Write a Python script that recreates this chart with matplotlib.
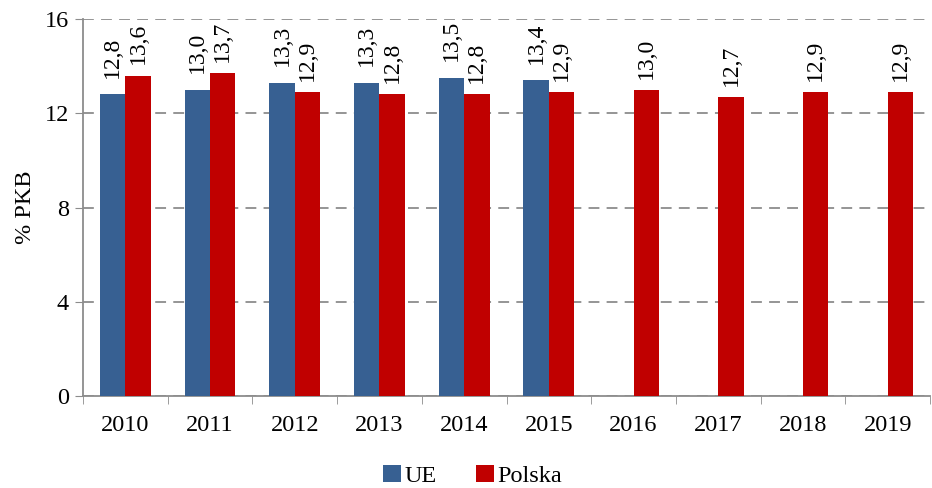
import numpy as np
import matplotlib
matplotlib.use('Agg')
import matplotlib.pyplot as plt

years = ['2010', '2011', '2012', '2013', '2014', '2015', '2016', '2017', '2018', '2019']
ue = [12.8, 13.0, 13.3, 13.3, 13.5, 13.4, None, None, None, None]
polska = [13.6, 13.7, 12.9, 12.8, 12.8, 12.9, 13.0, 12.7, 12.9, 12.9]

plt.rcParams['font.family'] = ['Liberation Serif', 'DejaVu Serif']

blue = '#376092'
red = '#C00000'
grid_c = '#8c8c8c'

fig = plt.figure(figsize=(9.32, 4.88), dpi=100)
ax = fig.add_axes([0.089, 0.1885, 0.909, 0.7725])

x = np.arange(len(years))
w = 0.3
ue_x = [xi - w / 2 for xi, v in zip(x, ue) if v is not None]
ue_v = [v for v in ue if v is not None]
b1 = ax.bar(ue_x, ue_v, w, color=blue, label='UE', zorder=3)
b2 = ax.bar(x + w / 2, polska, w, color=red, label='Polska', zorder=3)

def fmt(v):
    return f"{v:.1f}".replace('.', ',')

for xi, v in zip(ue_x, ue_v):
    ax.annotate(fmt(v), (xi, v), xytext=(0, 12), textcoords='offset points',
                rotation=90, ha='center', va='bottom', fontsize=17)
for xi, v in zip(x + w / 2, polska):
    ax.annotate(fmt(v), (xi, v), xytext=(0, 8), textcoords='offset points',
                rotation=90, ha='center', va='bottom', fontsize=17)

ax.set_xlim(-0.5, len(years) - 0.5)
ax.set_ylim(0, 16)
ax.set_yticks([0, 4, 8, 12, 16])
ax.set_xticks(x)
ax.set_xticklabels(years)
ax.set_xticks(np.arange(-0.5, len(years)), minor=True)
ax.tick_params(axis='x', which='major', length=0, labelsize=17.5, pad=14)
ax.tick_params(axis='x', which='minor', length=6, color=grid_c, direction='out')
ax.tick_params(axis='y', length=6, color=grid_c, labelsize=17.5, pad=4)
ax.yaxis.grid(True, ls=(0, (6, 4)), color=grid_c, lw=1.3, zorder=0)
for s in ['top', 'right']:
    ax.spines[s].set_visible(False)
for s in ['left', 'bottom']:
    ax.spines[s].set_color(grid_c)
    ax.spines[s].set_linewidth(1.3)
ax.set_ylabel('% PKB', fontsize=17.5, labelpad=6)

fig.legend(handles=[b1, b2], loc='center', bbox_to_anchor=(0.507, 0.025), ncol=2,
           frameon=False, fontsize=17.5, handlelength=0.75, handleheight=0.75,
           handletextpad=0.15, columnspacing=1.6, borderpad=0)

fig.savefig('out.png', dpi=100)
